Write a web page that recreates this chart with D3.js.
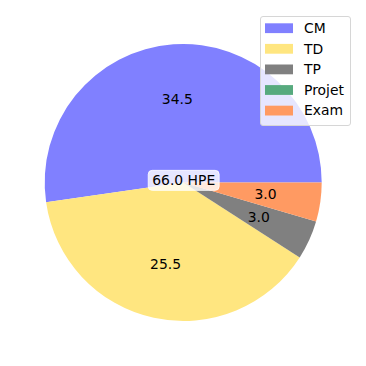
<!DOCTYPE html>
<html>
<head>
<meta charset="utf-8">
<script src="https://cdn.jsdelivr.net/npm/d3@7"></script>
<style>
  body { margin: 0; background: #fff; }
  text { font-family: "DejaVu Sans", sans-serif; }
</style>
</head>
<body>
<div class="pie-chart"></div>
<script>
const categories = ["CM", "TD", "TP", "Projet", "Exam"]
const hours = [34.5, 25.5, 3.0, 0, 3.0]
const colors = ["#8080ff", "#ffe680", "#808080", "#57aa7e", "#ff9a62"]
const totalLabel = "66.0 HPE"

const data = categories.map((name, i) => ({ name, value: hours[i], color: colors[i] }))

const dimensions = { width: 366, height: 366, radius: 138.5 }
const center = { x: 183.2, y: 182.5 }

const svg = d3.select('.pie-chart')
  .append('svg')
  .attr('width', dimensions.width)
  .attr('height', dimensions.height)

const graph = svg.append('g')
  .attr('transform', `translate(${center.x}, ${center.y})`)

// matplotlib style: start at 3 o'clock, go counterclockwise
const pie = d3.pie()
  .sort(null)
  .value(d => d.value)
  .startAngle(Math.PI / 2)
  .endAngle(Math.PI / 2 - 2 * Math.PI)

const arcPath = d3.arc()
  .outerRadius(dimensions.radius)
  .innerRadius(0)

const labelArc = d3.arc()
  .outerRadius(dimensions.radius * 0.6)
  .innerRadius(dimensions.radius * 0.6)

const slices = pie(data)

graph.selectAll('path')
  .data(slices)
  .enter()
  .append('path')
  .attr('d', arcPath)
  .attr('fill', d => d.data.color)

graph.selectAll('text.pct')
  .data(slices.filter(d => d.data.value > 0))
  .enter()
  .append('text')
  .attr('class', 'pct')
  .attr('transform', d => `translate(${labelArc.centroid(d)})`)
  .attr('text-anchor', 'middle')
  .attr('dy', '0.35em')
  .attr('font-size', 13.9)
  .attr('fill', '#000')
  .text(d => d.data.value.toFixed(1))

// total label with rounded white box
const totalG = graph.append('g')
const totalText = totalG.append('text')
  .attr('text-anchor', 'middle')
  .attr('dy', '0.35em')
  .attr('x', 0.5)
  .attr('y', -2)
  .attr('font-size', 13.9)
  .attr('fill', '#000')
  .text(totalLabel)
const bb = totalText.node().getBBox()
totalG.insert('rect', 'text')
  .attr('x', bb.x - 4)
  .attr('y', bb.y - 2)
  .attr('width', bb.width + 8)
  .attr('height', bb.height + 4)
  .attr('rx', 4)
  .attr('fill', 'rgba(255,255,255,0.8)')
  .attr('stroke', 'rgba(255,255,255,0.8)')

// legend
const legend = svg.append('g')
  .attr('transform', 'translate(260, 16)')

legend.append('rect')
  .attr('x', 0.5)
  .attr('y', 0.5)
  .attr('width', 90)
  .attr('height', 109)
  .attr('rx', 2.5)
  .attr('fill', 'rgba(255,255,255,0.8)')
  .attr('stroke', '#d6d6d6')

const items = legend.selectAll('g.item')
  .data(data)
  .enter()
  .append('g')
  .attr('class', 'item')
  .attr('transform', (d, i) => `translate(0, ${i * 20.6})`)

items.append('rect')
  .attr('x', 5)
  .attr('y', 7.3)
  .attr('width', 28)
  .attr('height', 9.8)
  .attr('fill', d => d.color)

items.append('text')
  .attr('x', 44)
  .attr('y', 12.2)
  .attr('dy', '0.35em')
  .attr('font-size', 13.9)
  .attr('fill', '#000')
  .text(d => d.name)
</script>
</body>
</html>
